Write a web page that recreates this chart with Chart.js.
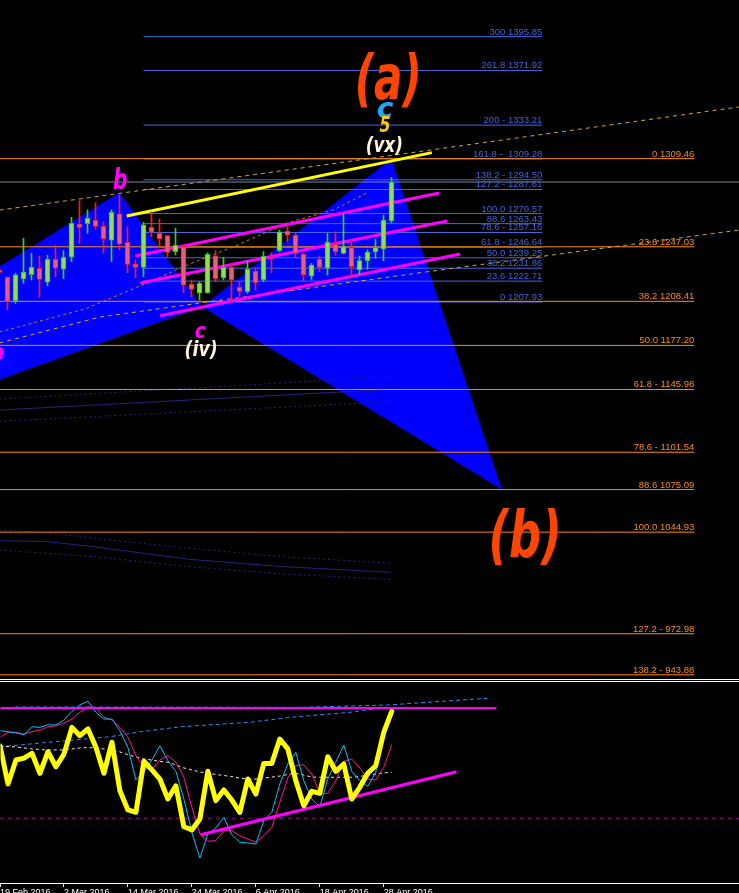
<!DOCTYPE html>
<html>
<head>
<meta charset="utf-8">
<title>XAUUSD Daily</title>
<script src="https://cdn.jsdelivr.net/npm/chart.js@4.4.1/dist/chart.umd.min.js"></script>
<style>
  html, body { margin: 0; padding: 0; background: #000; width: 739px; height: 893px; overflow: hidden; }
  canvas { position: absolute; left: 0; display: block; }
  #main { top: 0; }
  #osc { top: 682px; }
  .sep { position: absolute; left: 0; width: 739px; height: 1px; background: #fff; }
</style>
</head>
<body>
<canvas id="main" width="739" height="679"></canvas>
<div class="sep" style="top:679px"></div>
<div class="sep" style="top:681px"></div>
<canvas id="osc" width="739" height="231"></canvas>
<script>
// daily bars, bar 0 = 19 Feb 2016
const opens  = [1230.6, 1225.4, 1208.9, 1224.2, 1227.3, 1231.8, 1221.9, 1238.2, 1231.1, 1239.6,
                1263.2, 1263.4, 1265.8, 1261.5, 1251.8, 1270.3, 1250.2, 1234.8, 1232.5, 1260.8,
                1256.6, 1254.9, 1243.6, 1247.4, 1220.5, 1214.1, 1214.5, 1240.7, 1225.1, 1232.5,
                1218.3, 1215.2, 1229.9, 1223.5, 1239.6, 1244.3, 1258.2, 1255.4, 1241.9, 1226.3,
                1238.2, 1231.8, 1249.0, 1242.4, 1246.7, 1230.6, 1237.2, 1243.6, 1245.3, 1265.3];
const highs  = [1231.3, 1225.9, 1228.3, 1253.0, 1242.4, 1240.5, 1241.0, 1248.1, 1244.3, 1267.9,
                1279.7, 1273.1, 1278.3, 1264.8, 1273.1, 1283.7, 1261.3, 1237.7, 1264.4, 1271.9,
                1266.7, 1255.4, 1260.1, 1248.3, 1223.5, 1222.3, 1242.8, 1244.1, 1239.6, 1235.3,
                1222.3, 1236.5, 1232.2, 1243.6, 1242.8, 1258.9, 1261.3, 1256.6, 1242.8, 1235.3,
                1240.5, 1256.6, 1257.7, 1270.3, 1252.3, 1240.5, 1244.8, 1252.3, 1269.5, 1296.2];
const lows   = [1227.8, 1202.3, 1207.0, 1221.2, 1223.5, 1211.3, 1219.5, 1225.9, 1224.4, 1236.5,
                1249.5, 1256.6, 1259.4, 1242.4, 1236.5, 1244.8, 1228.7, 1225.1, 1225.9, 1254.2,
                1247.1, 1240.0, 1241.2, 1214.5, 1211.7, 1209.4, 1214.1, 1222.3, 1223.5, 1208.9,
                1211.7, 1214.1, 1216.4, 1222.3, 1228.7, 1243.6, 1250.6, 1239.3, 1223.0, 1224.0,
                1229.4, 1227.1, 1241.2, 1241.9, 1225.9, 1227.1, 1231.1, 1238.9, 1237.2, 1264.1];
const closes = [1228.8, 1208.4, 1227.1, 1229.2, 1232.5, 1224.0, 1238.2, 1231.8, 1239.6, 1263.7,
                1260.8, 1267.2, 1261.5, 1252.8, 1271.5, 1248.8, 1234.6, 1232.5, 1262.5, 1257.3,
                1252.8, 1243.1, 1248.1, 1219.8, 1216.9, 1221.2, 1241.7, 1224.4, 1232.5, 1223.5,
                1215.5, 1231.1, 1221.6, 1240.3, 1238.6, 1257.7, 1255.2, 1242.4, 1227.3, 1234.1,
                1232.5, 1250.4, 1243.6, 1247.1, 1232.9, 1237.2, 1243.3, 1246.4, 1266.0, 1292.7];

const tickBars   = [0, 8, 16, 24, 32, 40, 48];
const tickLabels = ['19 Feb 2016', '2 Mar 2016', '14 Mar 2016', '24 Mar 2016', '6 Apr 2016', '18 Apr 2016', '28 Apr 2016'];

// fibonacci expansion (blue) and retracement (orange)
const fibBluePrice = [1395.85, 1371.92, 1333.21, 1309.28, 1294.50, 1287.61, 1270.57, 1263.43, 1257.16, 1246.64, 1239.25, 1231.86, 1222.71, 1207.93];
const fibBlueText  = ['300 1395.85', '261.8 1371.92', '200 - 1333.21', '161.8 -  1309.28', '138.2 - 1294.50', '127.2 - 1287.61', '100.0 1270.57',
                      '88.6 1263.43', '78.6 - 1257.16', '61.8 - 1246.64', '50.0 1239.25', '38.2 1231.86', '23.6 1222.71', '0 1207.93'];
const fibOrangePrice = [1309.46, 1247.03, 1208.41, 1177.20, 1145.98, 1101.54, 1075.09, 1044.93, 972.98, 943.88];
const fibOrangeText  = ['0 1309.46', '23.6 1247.03', '38.2 1208.41', '50.0 1177.20', '61.8 - 1145.98', '78.6 - 1101.54',
                        '88.6 1075.09', '100.0 1044.93', '127.2 - 972.98', '138.2 - 943.88'];
const bidPrice = 1292.9;

// harmonic pattern triangles [bar, price]
const triangleXAB = [[-54.9, 1040.8], [15, 1285.5], [25.3, 1204.5]];
const triangleBCD = [[25.3, 1204.5], [49, 1309.3], [62.8, 1075.1]];

// trend lines [bar, price]
const yellowTrend = [[15.9, 1268.8], [54.05, 1313.7]];
const channelTop  = [[16.96, 1240.5], [54.96, 1285.1]];
const channelMid  = [[17.59, 1221.4], [55.96, 1265.3]];
const channelLow  = [[20.09, 1198.2], [57.59, 1241.9]];
const dashUpper   = [[0, 1273.0], [92.5, 1346.1]];
const dashLower   = [[0, 1178.9], [12.59, 1197.3], [25.09, 1207.2], [55.09, 1230.6], [92.46, 1258.9]];
const dashAvg     = [[0, 1186.7], [10.71, 1203.0], [16.96, 1217.8], [23.46, 1234.1], [29.21, 1246.9], [35.96, 1263.9], [41.71, 1273.1], [45.96, 1285.1]];

// dark envelopes
const envAMid = [[0, 1131.4], [48.96, 1146.1]];
const envAUp  = [[0, 1139.2], [48.96, 1155.0]];
const envALo  = [[0, 1123.4], [48.96, 1137.3]];
const envBMid = [[0, 1038.9], [5.96, 1038.2], [11.84, 1034.6], [23.71, 1025.7], [35.46, 1020.5], [48.96, 1016.5]];
const envBUp  = [[0, 1046.5], [6.59, 1044.1], [11.84, 1040.6], [23.71, 1033.5], [35.46, 1027.5], [48.96, 1022.9]];
const envBLo  = [[0, 1032.3], [11.84, 1027.5], [23.71, 1020.5], [35.46, 1015.3], [48.96, 1011.5]];

// oscillator window
const rsiLine  = [68.8, 49.5, 61.6, 62.6, 65.0, 54.9, 65.8, 58.2, 64.6, 78.1, 73.9, 77.3, 68.0, 54.9, 70.6, 46.1, 36.4, 35.2, 61.0, 56.6,
                  52.0, 41.9, 48.6, 27.9, 26.3, 31.8, 55.9, 41.1, 46.5, 41.4, 35.2, 52.0, 44.4, 59.9, 59.9, 72.2, 67.2, 51.2, 38.5, 45.8,
                  44.8, 63.3, 55.9, 59.6, 41.9, 47.8, 54.9, 58.7, 75.6, 86.2];
const fastLine = [76.4, 75.9, 75.3, 74.4, 78.4, 78.1, 79.4, 79.3, 81.8, 86.2, 89.5, 91.3, 85.7, 82.3, 82.3, 76.4, 68.0, 51.5, 55.9, 61.6,
                  68.8, 61.3, 55.9, 41.9, 25.1, 12.1, 24.2, 27.3, 32.7, 23.9, 20.1, 19.7, 19.2, 31.0, 35.2, 49.5, 59.6, 65.5, 51.2, 41.9,
                  38.0, 52.0, 60.5, 69.2, 55.9, 51.2, 48.3, 55.4, 73.4, 85.7];
const slowLine = [73.1, 75.6, 75.6, 74.7, 75.9, 76.8, 78.4, 78.9, 80.2, 82.3, 85.7, 88.5, 87.9, 83.2, 81.8, 78.1, 73.1, 63.8, 57.9, 56.6,
                  61.6, 63.8, 60.5, 52.9, 37.7, 24.2, 20.6, 20.9, 25.9, 25.9, 23.4, 21.7, 20.1, 23.4, 27.6, 40.3, 52.5, 58.7, 59.2, 54.5,
                  44.8, 44.8, 51.2, 61.0, 62.1, 57.6, 52.0, 51.5, 57.9, 69.3];
const rsiAvg   = [68.8, 68.4, 68.2, 67.7, 67.2, 66.9, 66.7, 66.7, 66.7, 67.2, 67.7, 67.9, 67.7, 67.2, 66.7, 65.7, 64.3, 63.1, 62.1, 61.6,
                  60.9, 60.5, 59.1, 57.6, 56.6, 55.6, 54.9, 54.3, 53.8, 53.2, 52.5, 52.0, 52.0, 52.5, 53.0, 53.5, 54.3, 54.9, 54.0, 53.0,
                  52.9, 52.9, 52.9, 52.9, 52.9, 53.3, 54.0, 54.5, 55.1, 55.4];
const bandUpper = [[1.9, 88.4], [37.6, 88.2], [48.5, 89.4], [61, 92.8]];
const bandLower = [[0, 68.3], [7.6, 71.1], [13.8, 73.4], [17.6, 75.9], [22.6, 78.4], [31.3, 80.7], [36.3, 83.2], [43.8, 85.7], [48.5, 88.4]];
const oscResist = [[-1, 87.9], [62.1, 87.9]];
const oscTrend  = [[25.1, 23.9], [57.1, 55.7]];
const oscLevel  = [[-1, 32.2], [93, 32.2]];

// view window (bars) and price range
const xMin = 0.0625, xMax = 0.0625 + 739 / 8;
const priceMin = 940.93, priceMax = 1421.81;

const pts = arr => arr.map(([x, y]) => ({x, y}));
const series = vals => vals.map((y, x) => ({x, y}));
function levels(prices, from, to) {
  const out = [];
  prices.forEach(p => out.push({x: from, y: p}, {x: to, y: p}, {x: to, y: null}));
  return out;
}
function line(data, color, width, order, dash) {
  return {type: 'line', data, borderColor: color, borderWidth: width, borderDash: dash || [],
          pointRadius: 0, tension: 0, fill: false, order};
}
function shape(data, color, order) {
  return {type: 'line', data, borderWidth: 0, borderColor: 'rgba(0,0,0,0)', backgroundColor: color,
          pointRadius: 0, tension: 0, fill: 'shape', order};
}

const bull = closes.map((c, i) => c >= opens[i]);
const blueFib = '#4169e1', orangeFib = '#ff8c00';

const notes = [
  {text: '(a)',  bar: 48.6,  price: 1363.0, color: '#ff4500', size: 62, sx: 0.68},
  {text: 'c',    bar: 48.2,  price: 1343.2, color: '#1ea8ff', size: 28, sx: 1.0},
  {text: '5',    bar: 48.2,  price: 1331.9, color: '#ffcc00', size: 21, sx: 0.75},
  {text: '(vx)', bar: 48.1,  price: 1317.7, color: '#fff5dc', size: 21, sx: 0.8},
  {text: 'b',    bar: 15.1,  price: 1293.6, color: '#ff00ff', size: 29, sx: 0.7},
  {text: 'c',    bar: 25.1,  price: 1186.7, color: '#ff00ff', size: 22, sx: 0.85},
  {text: '(iv)', bar: 25.2,  price: 1173.9, color: '#fff5dc', size: 21, sx: 0.83},
  {text: 'a',    bar: -0.16, price: 1171.8, color: '#ff00ff', size: 22, sx: 0.85},
  {text: '(b)',  bar: 65.7,  price: 1039.4, color: '#ff4500', size: 64, sx: 0.7}
];

const textPlugin = {
  id: 'chartText',
  afterDatasetsDraw(chart) {
    const {ctx, scales: {x, y}} = chart;
    ctx.save();
    ctx.font = '9.5px "Liberation Sans", Arial, sans-serif';
    ctx.textAlign = 'right';
    ctx.textBaseline = 'alphabetic';
    ctx.fillStyle = '#3c64dc';
    fibBluePrice.forEach((p, i) => ctx.fillText(fibBlueText[i], x.getPixelForValue(67.84), y.getPixelForValue(p) - 2));
    ctx.fillStyle = orangeFib;
    fibOrangePrice.forEach((p, i) => ctx.fillText(fibOrangeText[i], x.getPixelForValue(86.84), y.getPixelForValue(p) - 2));

    ctx.textAlign = 'center';
    ctx.textBaseline = 'middle';
    notes.forEach(n => {
      ctx.save();
      ctx.translate(x.getPixelForValue(n.bar), y.getPixelForValue(n.price));
      ctx.scale(n.sx, 1);
      ctx.font = `bold italic ${n.size}px "DejaVu Sans", sans-serif`;
      ctx.fillStyle = n.color;
      ctx.fillText(n.text, 0, 0);
      ctx.restore();
    });
    ctx.restore();
  }
};

new Chart(document.getElementById('main'), {
  type: 'bar',
  data: {
    datasets: [
      shape(pts(triangleXAB), '#0000ff', 30),
      shape(pts(triangleBCD), '#0000ff', 30),
      line(pts(envAMid), '#23237e', 1, 25),
      line(pts(envAUp), '#23237e', 1, 25, [2, 3]),
      line(pts(envALo), '#23237e', 1, 25, [2, 3]),
      line(pts(envBMid), '#23237e', 1, 25),
      line(pts(envBUp), '#23237e', 1, 25, [2, 3]),
      line(pts(envBLo), '#23237e', 1, 25, [2, 3]),
      line(levels(fibOrangePrice, -1, 86.84), orangeFib, 1, 20),
      line(levels(fibBluePrice, 18, 67.84), blueFib, 1, 20),
      line(levels([bidPrice], -1, 93), '#778899', 1, 20),
      line(pts(dashAvg), '#b8860b', 1, 15, [3, 3]),
      line(pts(dashUpper), '#daa520', 1, 15, [4, 4]),
      line(pts(dashLower), '#daa520', 1, 15, [4, 4]),
      line(pts(channelTop), '#ff00ff', 3, 10),
      line(pts(channelMid), '#ff00ff', 3, 10),
      line(pts(channelLow), '#ff00ff', 3, 10),
      line(pts(yellowTrend), '#ffff00', 3, 9),
      {
        type: 'bar', order: 2, grouped: false, barThickness: 1,
        data: lows.map((l, i) => ({x: i, y: [l, highs[i]]})),
        backgroundColor: bull.map(b => b ? '#2ad82a' : '#ff1a1a')
      },
      {
        type: 'bar', order: 1, grouped: false, barThickness: 5, borderWidth: 1, borderSkipped: false,
        data: opens.map((o, i) => ({x: i, y: [o, closes[i]]})),
        backgroundColor: bull.map(b => b ? '#8fe04a' : '#e06080'),
        borderColor: bull.map(b => b ? '#22c822' : '#ff1a1a')
      }
    ]
  },
  options: {
    responsive: false,
    animation: false,
    layout: {padding: 0},
    plugins: {legend: {display: false}, tooltip: {enabled: false}},
    scales: {
      x: {type: 'linear', min: xMin, max: xMax, offset: false, display: false},
      y: {type: 'linear', min: priceMin, max: priceMax, beginAtZero: false, display: false}
    }
  },
  plugins: [textPlugin]
});

new Chart(document.getElementById('osc'), {
  type: 'line',
  data: {
    datasets: [
      line(pts(oscLevel), '#a000a0', 1, 9, [4, 4]),
      line(pts(bandUpper), '#1e90ff', 1, 8, [4, 3]),
      line(pts(bandLower), '#1e90ff', 1, 8, [4, 3]),
      line(series(rsiAvg), '#ffe8c8', 1, 7, [3, 3]),
      line(series(slowLine), '#ff1493', 1, 5),
      line(series(fastLine), '#00bfff', 1, 4),
      line(pts(oscResist), '#ff00ff', 2, 3),
      line(pts(oscTrend), '#ff00ff', 3, 3),
      Object.assign(line(series(rsiLine), '#ffff00', 5, 1), {borderJoinStyle: 'round', borderCapStyle: 'round'})
    ]
  },
  options: {
    responsive: false,
    animation: false,
    layout: {padding: 0},
    plugins: {legend: {display: false}, tooltip: {enabled: false}},
    scales: {
      x: {
        type: 'linear', min: xMin, max: xMax, offset: false, position: 'bottom',
        afterBuildTicks: s => { s.ticks = tickBars.map(v => ({value: v})); },
        afterFit: s => { s.height = 30; },
        border: {display: true, color: '#ffffff', width: 1},
        grid: {display: true, drawOnChartArea: false, drawTicks: true, tickLength: 4, color: '#ffffff'},
        ticks: {
          color: '#ffffff', align: 'start', padding: 0, maxRotation: 0, autoSkip: false,
          font: {family: '"Liberation Sans", Arial, sans-serif', size: 9},
          callback: v => tickLabels[tickBars.indexOf(v)]
        }
      },
      y: {type: 'linear', min: -0.505, max: 101.01, display: false}
    }
  }
});
</script>
</body>
</html>
